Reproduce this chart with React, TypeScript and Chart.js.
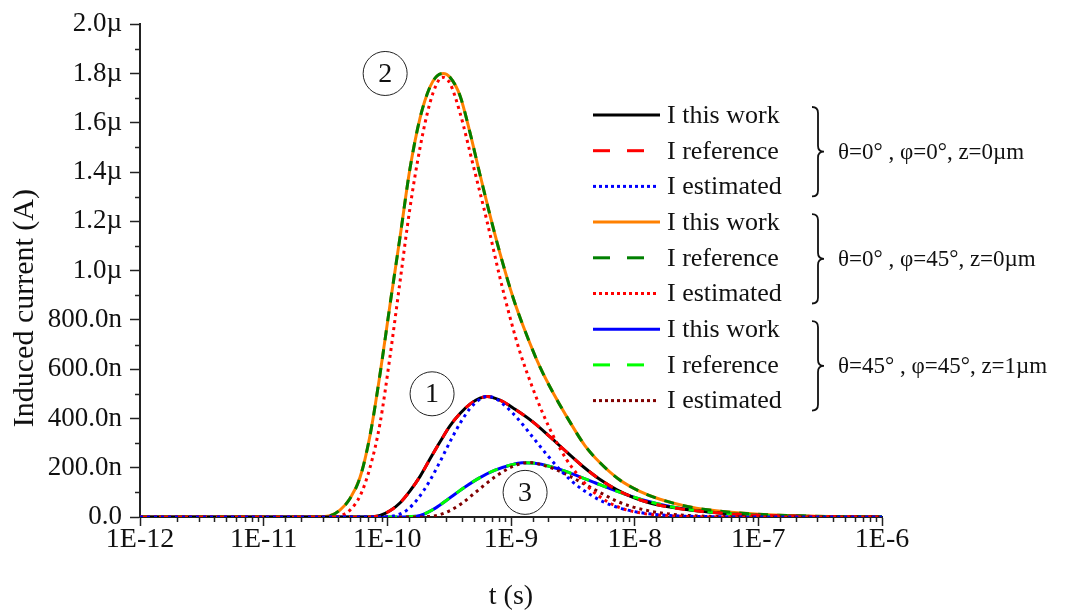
import React, { useEffect, useRef } from 'react';
import { Chart, registerables } from 'chart.js';

Chart.register(...registerables);

const FONT = "'Liberation Serif', 'Times New Roman', serif";

// ---- Data (time in seconds, current in µA) ----
// Case 1: θ=0°, φ=0°, z=0µm
const t1This = [1e-12, 6e-11, 7.52e-11, 8.73e-11, 1.05e-10, 1.27e-10, 1.52e-10, 1.84e-10, 2.21e-10, 2.67e-10, 3.21e-10, 3.87e-10, 4.66e-10, 5.61e-10, 6.4e-10, 8.15e-10, 1.08e-9, 1.51e-9, 2.07e-9, 2.84e-9, 3.82e-9, 5.25e-9, 7.19e-9, 9.69e-9, 1.33e-8, 1.93e-8, 2.8e-8, 4.9e-8, 1.03e-7, 3.15e-7, 1e-6];
const i1This = [0, 0, 0.001, 0.006, 0.025, 0.058, 0.105, 0.165, 0.235, 0.305, 0.37, 0.42, 0.458, 0.482, 0.489, 0.474, 0.437, 0.385, 0.325, 0.262, 0.205, 0.152, 0.11, 0.08, 0.057, 0.04, 0.028, 0.016, 0.007, 0.002, 0];
const t1Est = [1e-12, 8.5e-11, 1.01e-10, 1.2e-10, 1.44e-10, 1.77e-10, 2.21e-10, 2.67e-10, 3.21e-10, 3.87e-10, 4.66e-10, 5.61e-10, 6.4e-10, 7.42e-10, 8.94e-10, 1.14e-9, 1.51e-9, 1.95e-9, 2.49e-9, 3.11e-9, 3.82e-9, 5.25e-9, 7.19e-9, 1.1e-8, 1.93e-8, 4.9e-8, 1.03e-7, 1e-6];
const i1Est = [0, 0, 0.001, 0.008, 0.028, 0.075, 0.148, 0.225, 0.305, 0.38, 0.44, 0.478, 0.489, 0.482, 0.452, 0.398, 0.322, 0.253, 0.192, 0.145, 0.11, 0.068, 0.04, 0.018, 0.006, 0.001, 0, 0];

// Case 2: θ=0°, φ=45°, z=0µm
const t2This = [1e-12, 2.4e-11, 2.86e-11, 3.44e-11, 4.14e-11, 4.99e-11, 6.01e-11, 7.24e-11, 8.73e-11, 1.05e-10, 1.27e-10, 1.52e-10, 1.84e-10, 2.21e-10, 2.52e-10, 2.82e-10, 3.21e-10, 3.87e-10, 4.66e-10, 5.61e-10, 6.76e-10, 8.15e-10, 1.04e-9, 1.3e-9, 1.71e-9, 2.27e-9, 3.0e-9, 3.96e-9, 5.25e-9, 7.59e-9, 1.1e-8, 1.6e-8, 2.55e-8, 4.06e-8, 7.11e-8, 1.5e-7, 3.8e-7, 1e-6];
const i2This = [0, 0, 0.001, 0.005, 0.028, 0.075, 0.16, 0.33, 0.58, 0.86, 1.14, 1.41, 1.62, 1.745, 1.79, 1.8, 1.785, 1.71, 1.56, 1.39, 1.225, 1.07, 0.89, 0.755, 0.61, 0.49, 0.385, 0.29, 0.22, 0.15, 0.104, 0.072, 0.045, 0.028, 0.016, 0.007, 0.002, 0];
const t2Est = [1e-12, 3.6e-11, 4.14e-11, 4.99e-11, 6.01e-11, 7.24e-11, 8.73e-11, 1.05e-10, 1.27e-10, 1.52e-10, 1.84e-10, 2.21e-10, 2.52e-10, 2.77e-10, 3.21e-10, 3.87e-10, 4.93e-10, 6.4e-10, 8.15e-10, 9.82e-10, 1.18e-9, 1.48e-9, 1.81e-9, 2.27e-9, 2.84e-9, 3.48e-9, 4.35e-9, 5.76e-9, 7.59e-9, 1.1e-8, 1.93e-8, 4.9e-8, 1e-6];
const i2Est = [0, 0, 0.004, 0.028, 0.085, 0.2, 0.38, 0.65, 0.96, 1.25, 1.5, 1.68, 1.76, 1.785, 1.76, 1.64, 1.43, 1.2, 0.97, 0.81, 0.67, 0.53, 0.42, 0.315, 0.23, 0.17, 0.115, 0.068, 0.038, 0.017, 0.005, 0, 0];

// Case 3: θ=45°, φ=45°, z=1µm
const t3This = [1e-12, 1.25e-10, 1.47e-10, 1.84e-10, 2.43e-10, 3.21e-10, 4.25e-10, 5.61e-10, 7.43e-10, 9.82e-10, 1.23e-9, 1.56e-9, 2.07e-9, 2.74e-9, 3.61e-9, 4.78e-9, 6.31e-9, 8.67e-9, 1.21e-8, 1.76e-8, 2.65e-8, 4.46e-8, 8.55e-8, 2.17e-7, 1e-6];
const i3This = [0, 0, 0.001, 0.006, 0.035, 0.078, 0.122, 0.16, 0.19, 0.21, 0.22, 0.218, 0.205, 0.186, 0.163, 0.139, 0.115, 0.09, 0.067, 0.047, 0.031, 0.018, 0.009, 0.003, 0];
const t3Est = [1e-12, 1.75e-10, 2.02e-10, 2.52e-10, 3.21e-10, 4.02e-10, 5.02e-10, 6.28e-10, 7.85e-10, 9.82e-10, 1.23e-9, 1.43e-9, 1.71e-9, 2.27e-9, 3.0e-9, 4.11e-9, 5.45e-9, 7.19e-9, 9.51e-9, 1.33e-8, 1.93e-8, 3.37e-8, 7.11e-8, 1.8e-7, 1e-6];
const i3Est = [0, 0, 0.001, 0.006, 0.026, 0.056, 0.095, 0.135, 0.171, 0.2, 0.218, 0.221, 0.214, 0.194, 0.165, 0.128, 0.095, 0.064, 0.042, 0.024, 0.012, 0.004, 0.001, 0, 0];

const seriesLabels = ['I this work', 'I reference', 'I estimated'];
const groupLabels = ['θ=0° , φ=0°, z=0µm', 'θ=0° , φ=45°, z=0µm', 'θ=45° , φ=45°, z=1µm'];

// Circled case numbers (placed in data space)
const markerLabels = ['1', '2', '3'];
const markerT = [2.3e-10, 9.6e-11, 1.3e-9];
const markerI = [0.5, 1.8, 0.1];

const xMin = 1e-12;
const xMax = 1e-6;
const yMin = 0;
const yMax = 2.0;
const yStep = 0.1;

const pts = (t: number[], v: number[]) => t.map((x, k) => ({ x, y: v[k] }));

const SOLID: number[] = [];
const DASH = [10, 9];
const DOT = [3, 4];

function makeDataset(label: string, data: any[], color: string, dash: number[], order: number) {
  return {
    label,
    data,
    borderColor: color,
    backgroundColor: color,
    borderWidth: 3,
    borderDash: dash,
    pointRadius: 0,
    fill: false,
    cubicInterpolationMode: 'monotone' as const,
    order,
  };
}

const overlayPlugin = {
  id: 'overlay',
  afterDraw(chart: any) {
    const ctx: CanvasRenderingContext2D = chart.ctx;
    const xs = chart.scales.x;
    const ys = chart.scales.y;
    ctx.save();

    // minor ticks
    ctx.strokeStyle = '#222';
    ctx.lineWidth = 1.5;
    ctx.setLineDash([]);
    xs.ticks.forEach((tk: any, idx: number) => {
      if (tk.label === '') {
        const px = Math.round(xs.getPixelForTick(idx)) + 0.5;
        ctx.beginPath();
        ctx.moveTo(px, xs.top);
        ctx.lineTo(px, xs.top + 5);
        ctx.stroke();
      }
    });
    ys.ticks.forEach((tk: any, idx: number) => {
      if (tk.label === '') {
        const py = Math.round(ys.getPixelForTick(idx)) + 0.5;
        ctx.beginPath();
        ctx.moveTo(ys.right - 5, py);
        ctx.lineTo(ys.right, py);
        ctx.stroke();
      }
    });

    // circled markers
    ctx.lineWidth = 1;
    ctx.strokeStyle = '#222';
    ctx.fillStyle = '#111';
    ctx.font = `28px ${FONT}`;
    ctx.textAlign = 'center';
    ctx.textBaseline = 'middle';
    markerLabels.forEach((lab, k) => {
      const cx = xs.getPixelForValue(markerT[k]);
      const cy = ys.getPixelForValue(markerI[k]);
      ctx.beginPath();
      ctx.arc(cx, cy, 22, 0, Math.PI * 2);
      ctx.stroke();
      ctx.fillText(lab, cx, cy + 1);
    });

    // legend
    const x0 = 593;
    const x1 = 660;
    const rowY = (k: number) => 115 + k * 35.7;
    chart.data.datasets.forEach((ds: any, k: number) => {
      const y = rowY(k);
      ctx.strokeStyle = ds.borderColor;
      ctx.lineWidth = 3;
      const d = ds.borderDash || [];
      if (d.length === 0) ctx.setLineDash([]);
      else if (d[0] > 5) ctx.setLineDash([17, 17]);
      else ctx.setLineDash([3, 3]);
      ctx.beginPath();
      ctx.moveTo(x0, y);
      ctx.lineTo(d.length && d[0] <= 5 ? x1 - 3 : x1, y);
      ctx.stroke();
      ctx.setLineDash([]);
      ctx.fillStyle = '#111';
      ctx.font = `26px ${FONT}`;
      ctx.textAlign = 'left';
      ctx.textBaseline = 'middle';
      ctx.fillText(ds.label, 667, y + 1);
    });

    // braces + group labels
    groupLabels.forEach((g, gi) => {
      const top = rowY(gi * 3) - 8;
      const bot = rowY(gi * 3 + 2) + 10;
      const mid = (top + bot) / 2;
      const xl = 812;
      const xs2 = 818;
      const xp = 824;
      ctx.strokeStyle = '#111';
      ctx.lineWidth = 1.8;
      ctx.beginPath();
      ctx.moveTo(xl, top);
      ctx.quadraticCurveTo(xs2, top, xs2, top + 6);
      ctx.lineTo(xs2, mid - 6);
      ctx.quadraticCurveTo(xs2, mid, xp, mid);
      ctx.quadraticCurveTo(xs2, mid, xs2, mid + 6);
      ctx.lineTo(xs2, bot - 6);
      ctx.quadraticCurveTo(xs2, bot, xl, bot);
      ctx.stroke();
      ctx.fillStyle = '#111';
      ctx.font = `23px ${FONT}`;
      ctx.textAlign = 'left';
      ctx.textBaseline = 'middle';
      ctx.fillText(g, 838, mid + 1);
    });

    ctx.restore();
  },
};

function formatY(v: number): string {
  if (Math.abs(v) < 1e-9) return '0.0';
  if (v >= 1 - 1e-9) return v.toFixed(1) + 'µ';
  return (v * 1000).toFixed(1) + 'n';
}

export default function App() {
  const ref = useRef<HTMLCanvasElement>(null);

  useEffect(() => {
    if (!ref.current) return;
    const datasets = [
      makeDataset(seriesLabels[0], pts(t1This, i1This), '#000000', SOLID, 3),
      makeDataset(seriesLabels[1], pts(t1This, i1This), '#ff0000', DASH, 2),
      makeDataset(seriesLabels[2], pts(t1Est, i1Est), '#0000ff', DOT, 1),
      makeDataset(seriesLabels[0], pts(t2This, i2This), '#ff8000', SOLID, 3),
      makeDataset(seriesLabels[1], pts(t2This, i2This), '#008000', DASH, 2),
      makeDataset(seriesLabels[2], pts(t2Est, i2Est), '#ff0000', DOT, 1),
      makeDataset(seriesLabels[0], pts(t3This, i3This), '#0000ff', SOLID, 3),
      makeDataset(seriesLabels[1], pts(t3This, i3This), '#00ff00', DASH, 2),
      makeDataset(seriesLabels[2], pts(t3Est, i3Est), '#800000', DOT, 1),
    ];

    const chart = new Chart(ref.current, {
      type: 'line',
      data: { datasets },
      options: {
        animation: false,
        responsive: false,
        devicePixelRatio: 1,
        layout: { padding: { left: 0, right: 190, top: 18, bottom: 0 } },
        plugins: {
          legend: { display: false },
          tooltip: { enabled: false },
        },
        scales: {
          x: {
            type: 'logarithmic',
            min: xMin,
            max: xMax,
            afterFit: (s: any) => { s.height = 94; },
            border: { display: true, color: '#222', width: 2 },
            grid: {
              display: true,
              drawOnChartArea: false,
              drawTicks: true,
              tickLength: 9,
              tickWidth: 1.5,
              tickColor: (c: any) => (c.tick && c.tick.label === '' ? 'rgba(0,0,0,0)' : '#222'),
            },
            ticks: {
              autoSkip: false,
              maxRotation: 0,
              minRotation: 0,
              padding: -3,
              color: '#111',
              font: { family: FONT, size: 28 },
              callback: (value: any) => {
                const v = Number(value);
                const l = Math.log10(v);
                const r = Math.round(l);
                return Math.abs(l - r) < 1e-6 ? '1E' + r : '';
              },
            },
            title: {
              display: true,
              text: 't (s)',
              color: '#111',
              font: { family: FONT, size: 28, lineHeight: 1 },
              padding: { top: 0, bottom: 0 },
            },
          },
          y: {
            type: 'linear',
            min: yMin,
            max: yMax,
            afterFit: (s: any) => { s.width = 140; },
            border: { display: true, color: '#222', width: 2 },
            grid: {
              display: true,
              drawOnChartArea: false,
              drawTicks: true,
              tickLength: 10,
              tickWidth: 1.5,
              tickColor: (c: any) => (c.tick && c.tick.label === '' ? 'rgba(0,0,0,0)' : '#222'),
            },
            ticks: {
              stepSize: yStep,
              autoSkip: false,
              padding: 8,
              color: '#111',
              font: { family: FONT, size: 27 },
              callback: (value: any) => {
                const v = Number(value);
                const n = Math.round(v / yStep);
                return n % 2 === 0 ? formatY(v) : '';
              },
            },
            title: {
              display: true,
              text: 'Induced current (A)' + '\u00a0'.repeat(10),
              color: '#111',
              font: { family: FONT, size: 30, lineHeight: 1 },
              padding: { top: 10, bottom: 0 },
            },
          },
        },
      },
      plugins: [overlayPlugin],
    } as any);

    return () => chart.destroy();
  }, []);

  return (
    <div style={{ position: 'absolute', left: 0, top: 0, width: 1072, height: 611, background: '#ffffff' }}>
      <canvas ref={ref} width={1072} height={611} style={{ display: 'block' }} />
    </div>
  );
}
